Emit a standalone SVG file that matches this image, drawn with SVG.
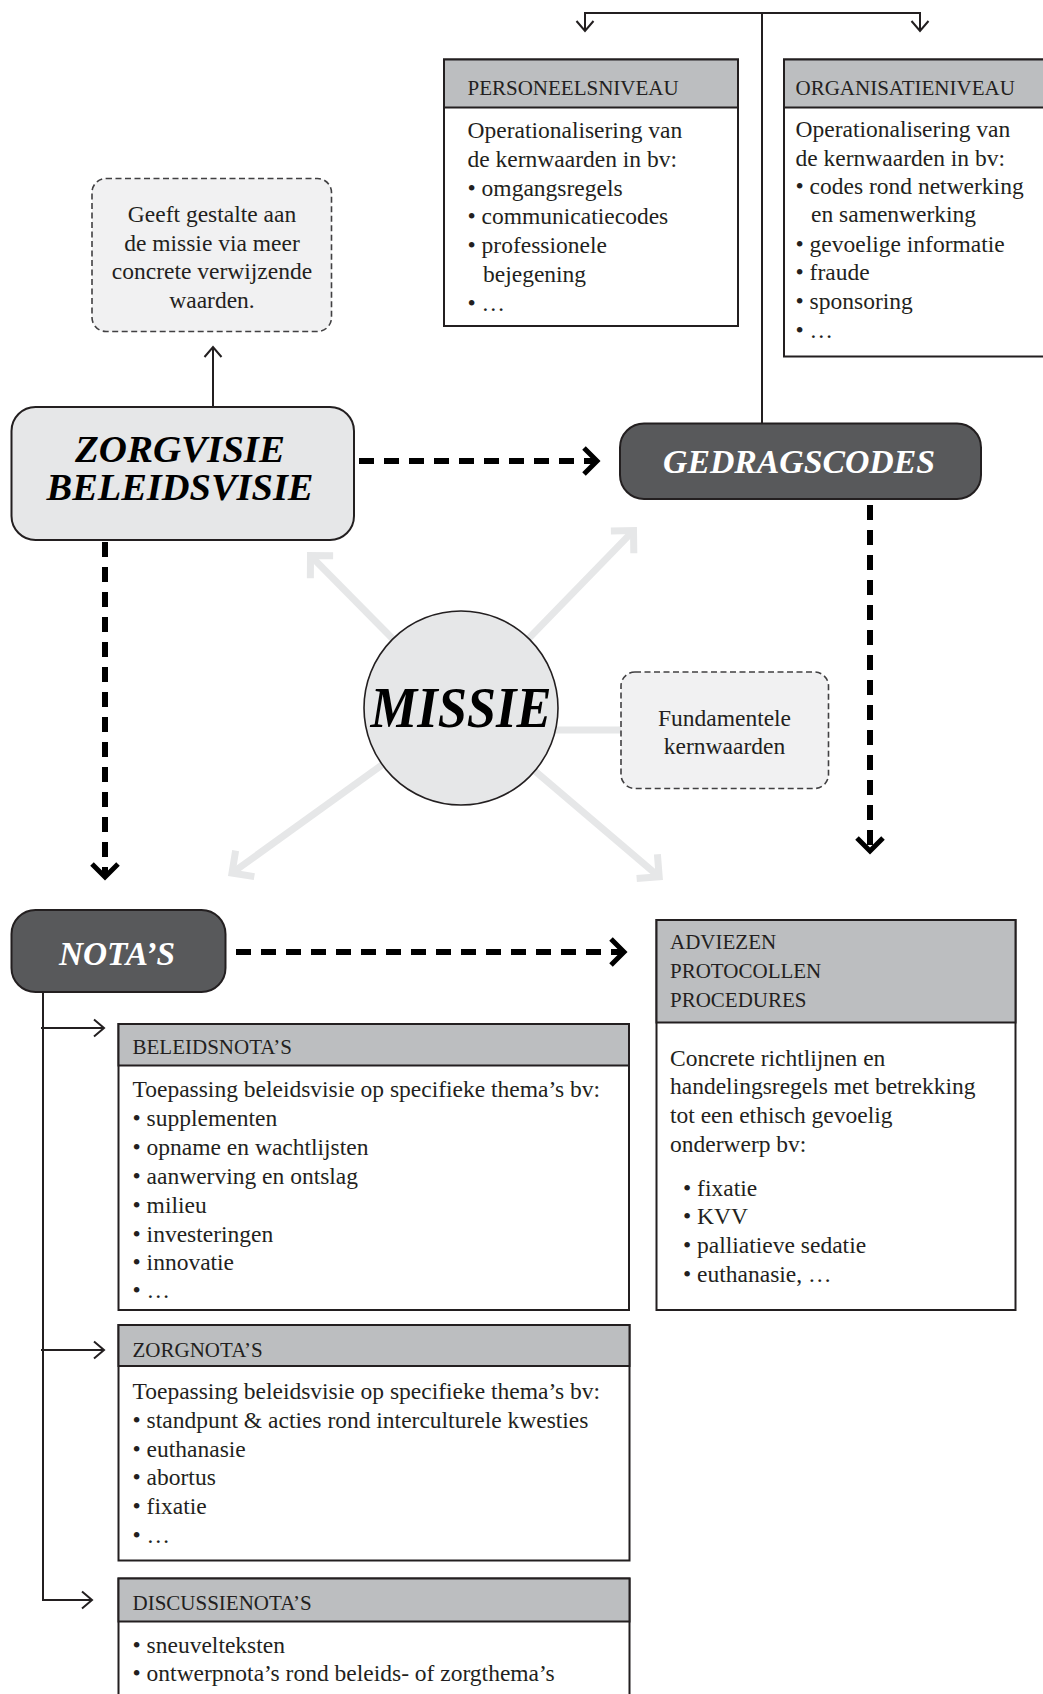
<svg xmlns="http://www.w3.org/2000/svg" width="1043" height="1694" viewBox="0 0 1043 1694">
<style>
.t{font-family:"Liberation Serif","Times New Roman",serif;font-size:23.5px;fill:#231f20}
.c{text-anchor:middle}
.h{font-family:"Liberation Serif","Times New Roman",serif;font-size:21px;fill:#231f20}
.ti{font-family:"Liberation Serif","Times New Roman",serif;font-weight:bold;font-style:italic;text-anchor:middle}
.box{fill:#fff;stroke:#231f20;stroke-width:2}
.hdr{fill:#bcbec0;stroke:#231f20;stroke-width:2}
.thin{stroke:#231f20;stroke-width:2;fill:none}
.thick{stroke:#000;stroke-width:6;stroke-dasharray:15 10;fill:none}
.gray{stroke:#e6e7e8;stroke-width:7;fill:none}
.dbox{fill:#f1f1f2;stroke:#414042;stroke-width:1.6;stroke-dasharray:6 3.5}
</style>
<defs>
<marker id="av" markerUnits="userSpaceOnUse" orient="auto" overflow="visible" refX="0" refY="0" markerWidth="1" markerHeight="1"><path d="M-10,-8.5 L0,0 L-10,8.5" fill="none" stroke="#231f20" stroke-width="2"/></marker>
<marker id="ch" markerUnits="userSpaceOnUse" orient="auto" overflow="visible" refX="0" refY="0" markerWidth="1" markerHeight="1"><path d="M-13,-13 L0,0 L-13,13" fill="none" stroke="#000" stroke-width="5"/></marker>
<marker id="gh" markerUnits="userSpaceOnUse" orient="auto" overflow="visible" refX="0" refY="0" markerWidth="1" markerHeight="1"><path d="M-16,-16 L0,0 L-16,16" fill="none" stroke="#e6e7e8" stroke-width="7"/></marker>
</defs>
<rect width="1043" height="1694" fill="#fff"/>
<g id="connectors">
<line class="gray" x1="461" y1="708" x2="310.5" y2="555.6" marker-end="url(#gh)"/>
<line class="gray" x1="461" y1="708" x2="633.5" y2="530.6" marker-end="url(#gh)"/>
<line class="gray" x1="461" y1="708" x2="232" y2="873" marker-end="url(#gh)"/>
<line class="gray" x1="461" y1="708" x2="659.2" y2="876.8" marker-end="url(#gh)"/>
<line class="gray" x1="461" y1="730" x2="622" y2="730"/>
<line class="thin" x1="584" y1="13" x2="921" y2="13"/>
<line class="thin" x1="585" y1="13" x2="585" y2="31" marker-end="url(#av)"/>
<line class="thin" x1="920" y1="13" x2="920" y2="31" marker-end="url(#av)"/>
<line class="thin" x1="762" y1="13" x2="762" y2="424"/>
<line class="thin" x1="213" y1="407" x2="213" y2="347" marker-end="url(#av)"/>
<line class="thick" x1="359" y1="461" x2="597" y2="461" marker-end="url(#ch)"/>
<line class="thick" x1="870" y1="505" x2="870" y2="851" marker-end="url(#ch)"/>
<line class="thick" x1="105" y1="542" x2="105" y2="877" marker-end="url(#ch)"/>
<line class="thick" x1="236" y1="952" x2="624" y2="952" marker-end="url(#ch)"/>
<polyline class="thin" points="43,992 43,1600 92,1600" marker-end="url(#av)"/>
<line class="thin" x1="41" y1="1028" x2="104" y2="1028" marker-end="url(#av)"/>
<line class="thin" x1="41" y1="1350" x2="104" y2="1350" marker-end="url(#av)"/>
</g>
<g id="personeelsniveau">
<rect class="box" x="444" y="59.5" width="294" height="266.5"/>
<rect class="hdr" x="444" y="59.5" width="294" height="48"/>
<text class="h" x="467.5" y="95">PERSONEELSNIVEAU</text>
<text class="t" x="467.5" y="138">Operationalisering van</text>
<text class="t" x="467.5" y="167">de kernwaarden in bv:</text>
<text class="t" x="467.5" y="196">• omgangsregels</text>
<text class="t" x="467.5" y="224">• communicatiecodes</text>
<text class="t" x="467.5" y="253">• professionele</text>
<text class="t" x="483" y="282">bejegening</text>
<text class="t" x="467.5" y="311">• …</text>
</g>
<g id="organisatieniveau">
<rect class="box" x="784" y="59.5" width="270" height="297"/>
<rect class="hdr" x="784" y="59.5" width="270" height="48"/>
<text class="h" x="795.5" y="95">ORGANISATIENIVEAU</text>
<text class="t" x="795.5" y="137">Operationalisering van</text>
<text class="t" x="795.5" y="166">de kernwaarden in bv:</text>
<text class="t" x="795.5" y="194">• codes rond netwerking</text>
<text class="t" x="811" y="222">en samenwerking</text>
<text class="t" x="795.5" y="252">• gevoelige informatie</text>
<text class="t" x="795.5" y="280">• fraude</text>
<text class="t" x="795.5" y="309">• sponsoring</text>
<text class="t" x="795.5" y="338">• …</text>
</g>
<g id="geeft-gestalte">
<rect class="dbox" x="92" y="178.5" width="239.5" height="153" rx="14"/>
<text class="t c" x="212" y="222">Geeft gestalte aan</text>
<text class="t c" x="212" y="250.5">de missie via meer</text>
<text class="t c" x="212" y="279">concrete verwijzende</text>
<text class="t c" x="212" y="308">waarden.</text>
</g>
<g id="zorgvisie">
<rect x="11.5" y="407" width="342.5" height="133" rx="24" fill="#e6e7e8" stroke="#231f20" stroke-width="2"/>
<text class="ti" x="180" y="462" font-size="38" fill="#000" textLength="210" lengthAdjust="spacingAndGlyphs">ZORGVISIE</text>
<text class="ti" x="180" y="500" font-size="38" fill="#000" textLength="267" lengthAdjust="spacingAndGlyphs">BELEIDSVISIE</text>
</g>
<g id="gedragscodes">
<rect x="620" y="423.5" width="361" height="75.5" rx="24" fill="#58595b" stroke="#231f20" stroke-width="2"/>
<text class="ti" x="799" y="473" font-size="34" fill="#fff" textLength="272" lengthAdjust="spacingAndGlyphs">GEDRAGSCODES</text>
</g>
<g id="missie">
<circle cx="461" cy="708" r="97" fill="#e6e7e8" stroke="#231f20" stroke-width="1.6"/>
<text class="ti" x="461" y="727" font-size="58" fill="#000" textLength="181" lengthAdjust="spacingAndGlyphs">MISSIE</text>
</g>
<g id="fundamentele-kernwaarden">
<rect class="dbox" x="621" y="672" width="207.5" height="116.5" rx="14"/>
<text class="t c" x="724.5" y="726">Fundamentele</text>
<text class="t c" x="724.5" y="754">kernwaarden</text>
</g>
<g id="notas">
<rect x="11.5" y="910" width="214" height="82" rx="24" fill="#58595b" stroke="#231f20" stroke-width="2"/>
<text class="ti" x="117" y="965" font-size="33" fill="#fff" textLength="116" lengthAdjust="spacingAndGlyphs">NOTA’S</text>
</g>
<g id="adviezen">
<rect class="box" x="656.5" y="920" width="359" height="390"/>
<rect class="hdr" x="656.5" y="920" width="359" height="102.5"/>
<text class="h" x="670" y="949">ADVIEZEN</text>
<text class="h" x="670" y="978">PROTOCOLLEN</text>
<text class="h" x="670" y="1007">PROCEDURES</text>
<text class="t" x="670" y="1066">Concrete richtlijnen en</text>
<text class="t" x="670" y="1094">handelingsregels met betrekking</text>
<text class="t" x="670" y="1123">tot een ethisch gevoelig</text>
<text class="t" x="670" y="1152">onderwerp bv:</text>
<text class="t" x="683" y="1196">• fixatie</text>
<text class="t" x="683" y="1224">• KVV</text>
<text class="t" x="683" y="1253">• palliatieve sedatie</text>
<text class="t" x="683" y="1282">• euthanasie, …</text>
</g>
<g id="beleidsnotas">
<rect class="box" x="118.5" y="1024" width="510.5" height="286"/>
<rect class="hdr" x="118.5" y="1024" width="510.5" height="41.5"/>
<text class="h" x="132.5" y="1054">BELEIDSNOTA’S</text>
<text class="t" x="132.5" y="1097">Toepassing beleidsvisie op specifieke thema’s bv:</text>
<text class="t" x="132.5" y="1126">• supplementen</text>
<text class="t" x="132.5" y="1155">• opname en wachtlijsten</text>
<text class="t" x="132.5" y="1184">• aanwerving en ontslag</text>
<text class="t" x="132.5" y="1213">• milieu</text>
<text class="t" x="132.5" y="1242">• investeringen</text>
<text class="t" x="132.5" y="1270">• innovatie</text>
<text class="t" x="132.5" y="1298">• …</text>
</g>
<g id="zorgnotas">
<rect class="box" x="118.5" y="1325" width="511" height="235.5"/>
<rect class="hdr" x="118.5" y="1325" width="511" height="41"/>
<text class="h" x="132.5" y="1357">ZORGNOTA’S</text>
<text class="t" x="132.5" y="1399">Toepassing beleidsvisie op specifieke thema’s bv:</text>
<text class="t" x="132.5" y="1428">• standpunt &amp; acties rond interculturele kwesties</text>
<text class="t" x="132.5" y="1457">• euthanasie</text>
<text class="t" x="132.5" y="1485">• abortus</text>
<text class="t" x="132.5" y="1514">• fixatie</text>
<text class="t" x="132.5" y="1543">• …</text>
</g>
<g id="discussienotas">
<rect class="box" x="118.5" y="1578.5" width="511" height="130"/>
<rect class="hdr" x="118.5" y="1578.5" width="511" height="43"/>
<text class="h" x="132.5" y="1610">DISCUSSIENOTA’S</text>
<text class="t" x="132.5" y="1653">• sneuvelteksten</text>
<text class="t" x="132.5" y="1681">• ontwerpnota’s rond beleids- of zorgthema’s</text>
</g>
</svg>
